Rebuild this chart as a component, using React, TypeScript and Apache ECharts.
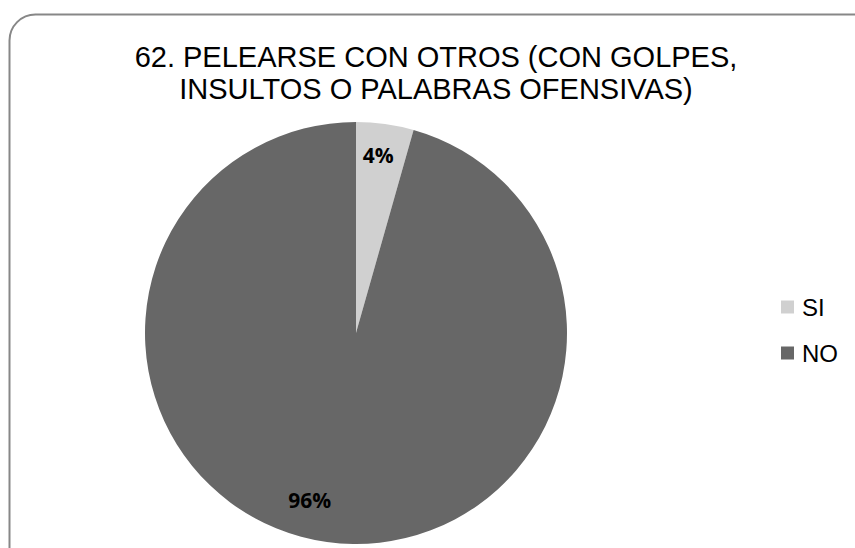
import React, { useEffect, useRef } from "react";
import * as echarts from "echarts";

const titleText = "62. PELEARSE CON OTROS (CON GOLPES,\nINSULTOS O PALABRAS OFENSIVAS)";
const categories = ["SI", "NO"];
const values = [4.4, 95.6];
const colors = ["#d0d0d0", "#676767"];

export default function App() {
  const ref = useRef<HTMLDivElement>(null);
  useEffect(() => {
    if (!ref.current) return;
    const chart = echarts.init(ref.current, null, { renderer: "svg" });
    const data = categories.map((name, i) => ({ name, value: values[i], itemStyle: { color: colors[i] } }));
    chart.setOption({
      animation: false,
      backgroundColor: "#ffffff",
      graphic: [
        {
          type: "rect",
          shape: { x: 9.5, y: 14.5, width: 870, height: 560, r: 26 },
          style: { fill: "none", stroke: "#878787", lineWidth: 2 },
          silent: true,
        },
      ],
      title: {
        text: titleText,
        left: 431,
        top: 36,
        textAlign: "center",
        textStyle: {
          fontFamily: "Liberation Sans",
          fontWeight: "normal",
          fontSize: 29,
          lineHeight: 32,
          color: "#000000",
        },
      },
      legend: {
        orient: "vertical",
        left: 776,
        top: 290,
        itemWidth: 13,
        itemHeight: 13,
        itemGap: 22,
        icon: "rect",
        data: categories.map((name, i) => ({ name, itemStyle: { color: colors[i] } })),
        textStyle: { fontFamily: "Liberation Sans", fontSize: 24, lineHeight: 24, color: "#000000", padding: [0, 0, 0, 3] },
      },
      series: [
        {
          type: "pie",
          center: [356, 333],
          radius: [0, 211],
          startAngle: 90,
          clockwise: true,
          silent: true,
          label: { show: false },
          labelLine: { show: false },
          data,
        },
        {
          type: "pie",
          center: [356, 333],
          radius: [134, 211],
          startAngle: 90,
          clockwise: true,
          silent: true,
          percentPrecision: 0,
          itemStyle: { color: "rgba(0,0,0,0)" },
          label: {
            show: true,
            position: "inside",
            formatter: "{d}%",
            fontFamily: "Open Sans",
            fontWeight: "bold",
            fontSize: 21,
            color: "#000000",
          },
          labelLayout: (p: any) => (p.dataIndex === 1 ? { dx: -22, dy: -7 } : { dx: -2, dy: -4 }),
          labelLine: { show: false },
          data: categories.map((name, i) => ({ name: name + " ", value: values[i], itemStyle: { color: "rgba(0,0,0,0)" } })),
        },
      ],
    });
    return () => chart.dispose();
  }, []);
  return <div ref={ref} style={{ position: "fixed", left: 0, top: 0, width: 855, height: 548 }} />;
}
